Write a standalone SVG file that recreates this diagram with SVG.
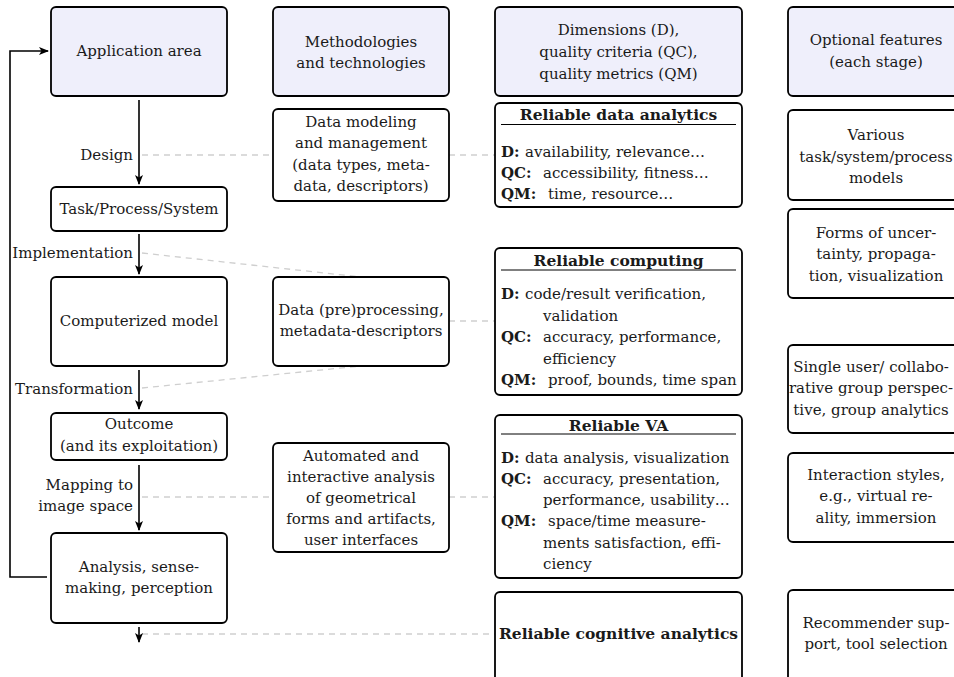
<svg xmlns="http://www.w3.org/2000/svg" width="954" height="677" viewBox="0 0 954 677">
<style>
.box{fill:#fff;stroke:#000;stroke-width:1.8}
.hdr{fill:#efeffb}
text{font-family:"DejaVu Serif","Liberation Serif",serif;font-size:15px;fill:#1a1a1a}
.c{text-anchor:middle}
.e{text-anchor:end}
.b{font-weight:bold}
.t{font-weight:bold;font-size:15.5px}
.dash{stroke:#cfcfcf;stroke-width:1.3;stroke-dasharray:6 5;fill:none}
.arr{stroke:#000;stroke-width:1.6;fill:none;marker-end:url(#ah)}
.ul{stroke:#000;stroke-width:1}
</style>
<defs>
<marker id="ah" viewBox="0 0 10 10" refX="9" refY="5" markerWidth="10" markerHeight="10" markerUnits="userSpaceOnUse" orient="auto">
<path d="M0,1 L10,5 L0,9 L2.5,5 z" fill="#000"/>
</marker>
</defs>
<rect width="954" height="677" fill="#fff"/>

<g id="connectors">
<path class="dash" d="M142 155 H273 M449 155 H495"/>
<path class="dash" d="M142 253 L361 277"/>
<path class="dash" d="M142 388 L361 366"/>
<path class="dash" d="M449 321 H495"/>
<path class="dash" d="M142 497 H273 M449 497 H495"/>
<path class="dash" d="M142 634 H495"/>
<path class="arr" d="M139 100 V184"/>
<path class="arr" d="M139 234 V274"/>
<path class="arr" d="M139 370 V409"/>
<path class="arr" d="M139 465 V530"/>
<path class="arr" d="M139 627 V642"/>
<path class="arr" d="M47 577 H10 V51 H48"/>
<text class="e" x="133" y="160">Design</text>
<text class="e" x="133" y="258">Implementation</text>
<text class="e" x="133" y="394">Transformation</text>
<text class="e" x="133" y="490">Mapping to</text>
<text class="e" x="133" y="511">image space</text>
</g>

<g id="app"><rect class="box hdr" x="51" y="7" width="176" height="89" rx="5"/><text class="c" x="139" y="56">Application area</text></g>
<g id="method"><rect class="box hdr" x="273" y="7" width="176" height="89" rx="5"/><text class="c" x="361" y="47">Methodologies</text><text class="c" x="361" y="68">and technologies</text></g>
<g id="dims"><rect class="box hdr" x="495" y="7" width="247" height="89" rx="5"/><text class="c" x="618.5" y="35">Dimensions (D),</text><text class="c" x="618.5" y="57">quality criteria (QC),</text><text class="c" x="618.5" y="79">quality metrics (QM)</text></g>
<g id="optional"><rect class="box hdr" x="788" y="7" width="176" height="89" rx="5"/><text class="c" x="876" y="45">Optional features</text><text class="c" x="876" y="67">(each stage)</text></g>

<g id="task"><rect class="box" x="51" y="187" width="176" height="44" rx="5"/><text class="c" x="139" y="214">Task/Process/System</text></g>
<g id="computerized"><rect class="box" x="51" y="277" width="176" height="89" rx="5"/><text class="c" x="139" y="326">Computerized model</text></g>
<g id="outcome"><rect class="box" x="51" y="413" width="176" height="47" rx="5"/><text class="c" x="139" y="429">Outcome</text><text class="c" x="139" y="451">(and its exploitation)</text></g>
<g id="analysis"><rect class="box" x="51" y="533" width="176" height="90" rx="5"/><text class="c" x="139" y="572">Analysis, sense-</text><text class="c" x="139" y="593">making, perception</text></g>

<g id="datamodel"><rect class="box" x="273" y="109" width="176" height="92" rx="5"/><text class="c" x="361" y="127">Data modeling</text><text class="c" x="361" y="148">and management</text><text class="c" x="361" y="170">(data types, meta-</text><text class="c" x="361" y="191">data, descriptors)</text></g>
<g id="preproc"><rect class="box" x="273" y="277" width="176" height="89" rx="5"/><text class="c" x="361" y="315">Data (pre)processing,</text><text class="c" x="361" y="336">metadata-descriptors</text></g>
<g id="automated"><rect class="box" x="273" y="443" width="176" height="109" rx="5"/><text class="c" x="361" y="461">Automated and</text><text class="c" x="361" y="482">interactive analysis</text><text class="c" x="361" y="503">of geometrical</text><text class="c" x="361" y="524">forms and artifacts,</text><text class="c" x="361" y="545">user interfaces</text></g>

<g id="rda"><rect class="box" x="495" y="103" width="247" height="104" rx="5"/><text class="c t" x="618.5" y="120">Reliable data analytics</text><line class="ul" x1="501" y1="124.5" x2="736" y2="124.5"/>
<text y="157"><tspan class="b" x="501">D:</tspan><tspan x="525">availability, relevance…</tspan></text>
<text y="178"><tspan class="b" x="501">QC:</tspan><tspan x="543">accessibility, fitness…</tspan></text>
<text y="199"><tspan class="b" x="501">QM:</tspan><tspan x="548">time, resource…</tspan></text></g>
<g id="rc"><rect class="box" x="495" y="248" width="247" height="147" rx="5"/><text class="c t" x="618.5" y="266">Reliable computing</text><line class="ul" x1="501" y1="270" x2="736" y2="270"/>
<text y="299"><tspan class="b" x="501">D:</tspan><tspan x="525">code/result verification,</tspan></text>
<text x="543" y="320.5">validation</text>
<text y="342"><tspan class="b" x="501">QC:</tspan><tspan x="543">accuracy, performance,</tspan></text>
<text x="543" y="363.5">efficiency</text>
<text y="385"><tspan class="b" x="501">QM:</tspan><tspan x="548">proof, bounds, time span</tspan></text></g>
<g id="rva"><rect class="box" x="495" y="415" width="247" height="163" rx="5"/><text class="c t" x="618.5" y="431">Reliable VA</text><line class="ul" x1="501" y1="434" x2="736" y2="434"/>
<text y="462.5"><tspan class="b" x="501">D:</tspan><tspan x="525">data analysis, visualization</tspan></text>
<text y="483.8"><tspan class="b" x="501">QC:</tspan><tspan x="543">accuracy, presentation,</tspan></text>
<text x="543" y="505">performance, usability…</text>
<text y="526.4"><tspan class="b" x="501">QM:</tspan><tspan x="548">space/time measure-</tspan></text>
<text x="543" y="547.7">ments satisfaction, effi-</text>
<text x="543" y="569">ciency</text></g>
<g id="rca"><rect class="box" x="495" y="592" width="247" height="92" rx="5"/><text class="c t" x="618.5" y="639">Reliable cognitive analytics</text></g>

<g id="various"><rect class="box" x="788" y="110" width="176" height="90" rx="5"/><text class="c" x="876" y="140">Various</text><text class="c" x="876" y="161.5">task/system/process</text><text class="c" x="876" y="183">models</text></g>
<g id="forms"><rect class="box" x="788" y="209" width="176" height="89" rx="5"/><text class="c" x="876" y="238">Forms of uncer-</text><text class="c" x="876" y="259">tainty, propaga-</text><text class="c" x="876" y="281">tion, visualization</text></g>
<g id="single"><rect class="box" x="788" y="345" width="176" height="88" rx="5"/><text class="c" x="871" y="372">Single user/ collabo-</text><text class="c" x="871" y="393">rative group perspec-</text><text class="c" x="871" y="415">tive, group analytics</text></g>
<g id="interaction"><rect class="box" x="788" y="453" width="176" height="89" rx="5"/><text class="c" x="876" y="480">Interaction styles,</text><text class="c" x="876" y="501">e.g., virtual re-</text><text class="c" x="876" y="523">ality, immersion</text></g>
<g id="recommender"><rect class="box" x="788" y="590" width="176" height="92" rx="5"/><text class="c" x="876" y="628">Recommender sup-</text><text class="c" x="876" y="649">port, tool selection</text></g>
</svg>
